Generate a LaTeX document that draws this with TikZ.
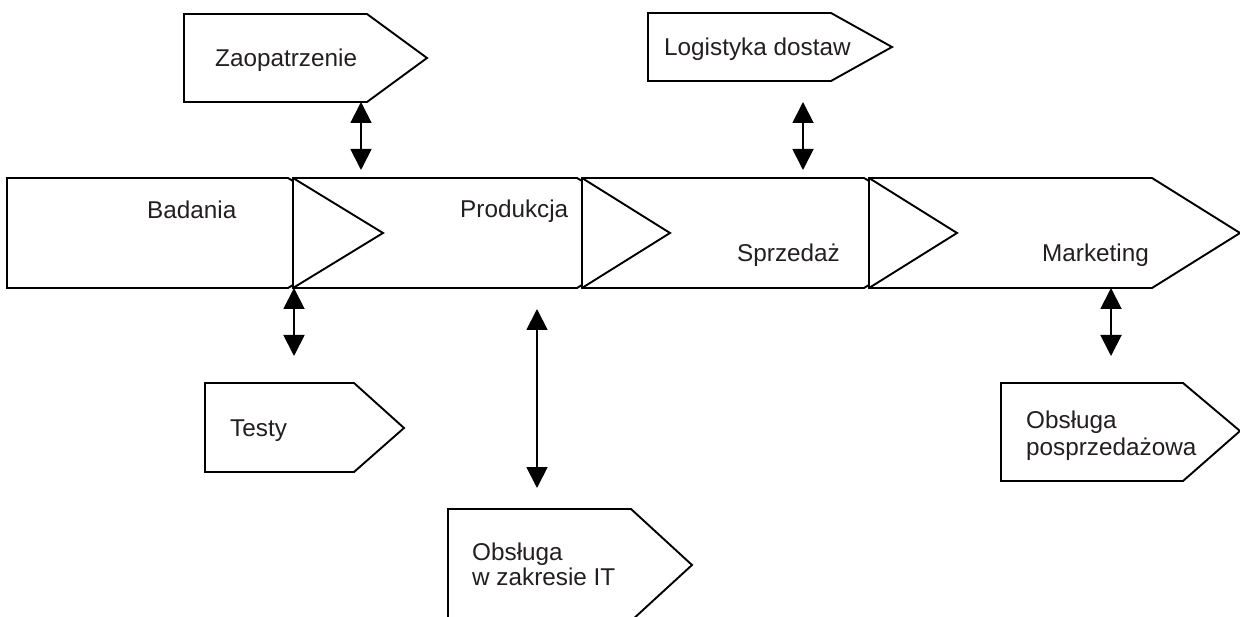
\documentclass[tikz,border=0pt]{standalone}
\usepackage{fontspec}
\setmainfont{Liberation Sans}
\usetikzlibrary{arrows.meta}
\definecolor{txt}{HTML}{231F20}
\tikzset{
  shp/.style={draw=black, line width=1.9pt, line join=miter, fill=white},
  lbl/.style={font=\fontsize{24.3}{27}\selectfont, text=txt, inner sep=0pt, anchor=base west, align=left},
  biarrow/.style={line width=1.9pt, {Triangle[width=21pt,length=21pt]}-{Triangle[width=21pt,length=21pt]}}
}
\begin{document}
\begin{tikzpicture}[x=1pt,y=-1pt]
\useasboundingbox (0,0) rectangle (1240,617);
\clip (0,0) rectangle (1240,617);
% main chain
\draw[shp] (7,178) -- (288,178) -- (293,181) -- (293,285) -- (288,288) -- (7,288) -- cycle;
\draw[shp] (293,178) -- (577,178) -- (582,181) -- (582,285) -- (577,288) -- (293,288) -- cycle;
\draw[shp] (582,178) -- (864,178) -- (869,181) -- (869,285) -- (864,288) -- (582,288) -- cycle;
\draw[shp] (869,178) -- (1152,178) -- (1240,233) -- (1152,288) -- (869,288) -- cycle;
\draw[shp, fill=none] (293,178) -- (383,233) -- (293,288);
\draw[shp, fill=none] (582,178) -- (670,233) -- (582,288);
\draw[shp, fill=none] (869,178) -- (957,233) -- (869,288);
\node[lbl] (badania) at (147,219) {Badania};
\node[lbl] (produkcja) at (460,218) {Produkcja};
\node[lbl] (sprzedaz) at (737,262) {Sprzedaż};
\node[lbl] (marketing) at (1042,262) {Marketing};
% side boxes
\draw[shp] (184,14) -- (367,14) -- (427,58) -- (367,102) -- (184,102) -- cycle;
\node[lbl] (zaop) at (215,67) {Zaopatrzenie};
\draw[shp] (648,13) -- (831,13) -- (892,47) -- (831,81) -- (648,81) -- cycle;
\node[lbl] (logist) at (664,56) {Logistyka dostaw};
\draw[shp] (205,383) -- (354,383) -- (404,428) -- (354,472) -- (205,472) -- cycle;
\node[lbl] (testy) at (230,437) {Testy};
\draw[shp] (448,509) -- (631,509) -- (692,565) -- (631,621) -- (448,621) -- cycle;
\node[lbl, font=\fontsize{24.3}{25}\selectfont] (it) at (472,585) {Obsługa\\w zakresie IT};
\draw[shp] (1001,383) -- (1183,383) -- (1240,431) -- (1183,481) -- (1001,481) -- cycle;
\node[lbl, font=\fontsize{24.3}{28}\selectfont] (posp) at (1026,456) {Obsługa\\posprzedażowa};
% connector end points
\coordinate (zaoA) at (361,102); \coordinate (zaoB) at (361,170);
\coordinate (logA) at (803,102); \coordinate (logB) at (803,170);
\coordinate (tesA) at (294,288); \coordinate (tesB) at (294,356);
\coordinate (itA) at (537,309); \coordinate (itB) at (537,488);
\coordinate (posA) at (1111,288); \coordinate (posB) at (1111,356);
\draw[biarrow] (zaoA) -- (zaoB);
\draw[biarrow] (logA) -- (logB);
\draw[biarrow] (tesA) -- (tesB);
\draw[biarrow] (itA) -- (itB);
\draw[biarrow] (posA) -- (posB);
\end{tikzpicture}
\end{document}
